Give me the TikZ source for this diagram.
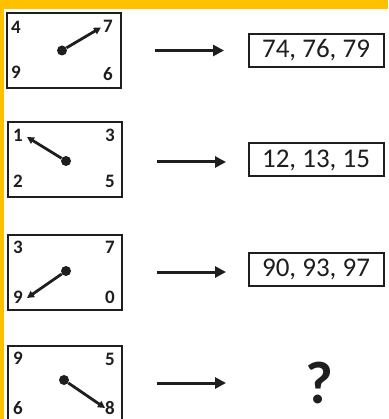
\documentclass[tikz,border=0pt]{standalone}
\usepackage{fontspec}
\setmainfont{Carlito}
\usetikzlibrary{arrows.meta}
\definecolor{band}{HTML}{FFC000}
\definecolor{ink}{HTML}{1E1E1E}

\begin{document}
\begin{tikzpicture}[x=1pt,y=-1pt,
    clock/.style={draw=ink,line width=2pt,minimum width=114pt,minimum height=75pt,inner sep=0pt},
    digit/.style={font=\fontsize{19}{19}\selectfont\bfseries,text=ink,inner sep=0pt},
    hub/.style={circle,fill=ink,minimum size=10pt,inner sep=0pt},
    hand/.style={draw=ink,line width=2.8pt,-{Triangle[length=7pt,width=7pt]}},
    go/.style={draw=ink,line width=3pt,-{Triangle[length=11pt,width=11pt]}},
    result/.style={draw=ink,line width=2pt,minimum width=135pt,minimum height=33pt,
      inner sep=0pt,font=\fontsize{27}{27}\selectfont,text=ink}]
  \useasboundingbox (0,0) rectangle (388,419);
  \fill[white] (0,0) rectangle (388,419);
  \fill[band] (0,0) rectangle (388,9);
  \fill[band] (0,0) rectangle (4,419);
  % row 1
  \begin{scope}[shift={(0,50.5)}]
    \node[clock] (c) at (64,0) {};
    \node[digit] (tl) at (16,-23) {4};
    \node[digit] (tr) at (108,-24) {7};
    \node[digit] (bl) at (16,22) {9};
    \node[digit] (br) at (108,24) {6};
    \node[hub] (h) at (62,0) {};
    \coordinate (t) at (101,-23);
    \draw[hand] (h) -- (t);
    \coordinate (a) at (155,0);
    \coordinate (b) at (224,0);
    \draw[go] (a) -- (b);
    \node[result] (r) at (316,0) {74, 76, 79};
  \end{scope}
  % row 2
  \begin{scope}[shift={(0,160)}]
    \node[clock] (c) at (65,0) {};
    \node[digit] (tl) at (18,-25) {1};
    \node[digit] (tr) at (110,-25) {3};
    \node[digit] (bl) at (18,21) {2};
    \node[digit] (br) at (110,21) {5};
    \node[hub] (h) at (66,1) {};
    \coordinate (t) at (27,-23);
    \draw[hand] (h) -- (t);
    \coordinate (a) at (157,2);
    \coordinate (b) at (226,2);
    \draw[go] (a) -- (b);
    \node[result] (r) at (316,0) {12, 13, 15};
  \end{scope}
  % row 3
  \begin{scope}[shift={(0,272)}]
    \node[clock] (c) at (65,0) {};
    \node[digit] (tl) at (18,-25) {3};
    \node[digit] (tr) at (110,-25) {7};
    \node[digit] (bl) at (18,25) {9};
    \node[digit] (br) at (110,25) {0};
    \node[hub] (h) at (66,-1) {};
    \coordinate (t) at (27,26);
    \draw[hand] (h) -- (t);
    \coordinate (a) at (157,0);
    \coordinate (b) at (226,0);
    \draw[go] (a) -- (b);
    \node[result] (r) at (316,-3) {90, 93, 97};
  \end{scope}
  % row 4
  \begin{scope}[shift={(0,383)}]
    \node[clock] (c) at (65,0) {};
    \node[digit] (tl) at (18,-25) {9};
    \node[digit] (tr) at (110,-24) {5};
    \node[digit] (bl) at (18,25) {6};
    \node[digit] (br) at (110,25) {8};
    \node[hub] (h) at (64,-3) {};
    \coordinate (t) at (105,25);
    \draw[hand] (h) -- (t);
    \coordinate (a) at (157,0);
    \coordinate (b) at (226,0);
    \draw[go] (a) -- (b);
    \node[font=\fontsize{60}{60}\selectfont\bfseries,text=ink,inner sep=0pt] (q) at (319,0) {?};
  \end{scope}
\end{tikzpicture}
\end{document}
